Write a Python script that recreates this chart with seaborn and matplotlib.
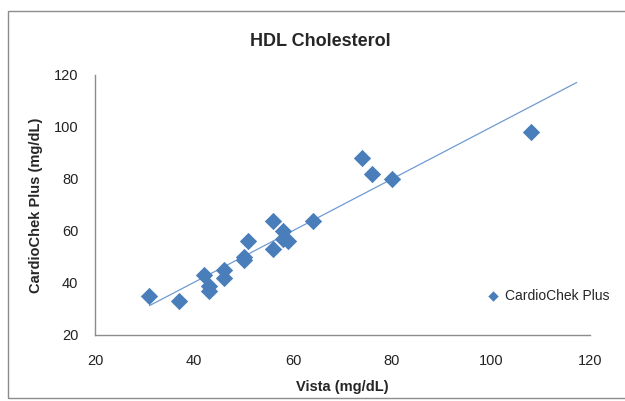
import numpy as np
import pandas as pd
import seaborn as sns
from matplotlib import pyplot as plt
from matplotlib.patches import Rectangle

# values
vista = [31, 37, 42, 43, 43, 46, 46, 50, 50, 51, 56, 56, 58, 58, 59, 64, 74, 76, 80, 108]
cardiochek = [35, 33, 43, 39, 37, 45, 42, 50, 49, 56, 64, 53, 60, 57, 56, 64, 88, 82, 80, 98]
x_ticks = [20, 40, 60, 80, 100, 120]
y_ticks = [20, 40, 60, 80, 100, 120]

df = pd.DataFrame({'Vista': vista, 'CardioChek Plus': cardiochek})

sns.set_theme(style='white')
plt.rcParams['font.family'] = ['Liberation Sans', 'DejaVu Sans']

blue = '#4A7EBB'
fig = plt.figure(figsize=(6.25, 4.01), dpi=100)
ax = fig.add_axes([95 / 625, 1 - 335 / 401, (590 - 95) / 625, (335 - 75) / 401])

sns.scatterplot(data=df, x='Vista', y='CardioChek Plus', ax=ax, marker='D', s=78,
                color=blue, edgecolor=blue, linewidth=0, label='CardioChek Plus', zorder=3)

# linear trendline, forecast forward like the Excel one
slope, intercept = np.polyfit(df['Vista'], df['CardioChek Plus'], 1)
xs = np.array([df['Vista'].min(), 117.3])
sns.lineplot(x=xs, y=slope * xs + intercept, ax=ax, color='#6F9BD1', lw=0.9, legend=False, zorder=2)

ax.set_xlim(20, 120)
ax.set_ylim(20, 120)
ax.set_xticks(x_ticks)
ax.set_yticks(y_ticks)
ax.tick_params(axis='both', length=0, labelsize=10.5, colors='#222222', pad=14)
ax.tick_params(axis='y', pad=12)
for s in ['top', 'right']:
    ax.spines[s].set_visible(False)
for s in ['left', 'bottom']:
    ax.spines[s].set_color('#8C8C8C')
    ax.spines[s].set_linewidth(1)

ax.set_xlabel('Vista (mg/dL)', fontsize=10.5, fontweight='bold', labelpad=8)
ax.set_ylabel('CardioChek Plus (mg/dL)', fontsize=10.5, fontweight='bold', labelpad=8)
fig.text(320 / 625, 1 - 41 / 401, 'HDL Cholesterol', ha='center', va='center',
         fontsize=13, fontweight='bold')

leg = ax.legend(loc='center left', bbox_to_anchor=(474 / 625, 1 - 296 / 401),
                bbox_transform=fig.transFigure, frameon=False, fontsize=10,
                handletextpad=-0.2, markerscale=0.6, borderaxespad=0)

# chart border
fig.patches.append(Rectangle((7.5 / 625, 3 / 401), 1, 1 - 13.5 / 401, transform=fig.transFigure,
                             fill=False, edgecolor='#8C8C8C', lw=1))

fig.savefig('out.png', dpi=100)
